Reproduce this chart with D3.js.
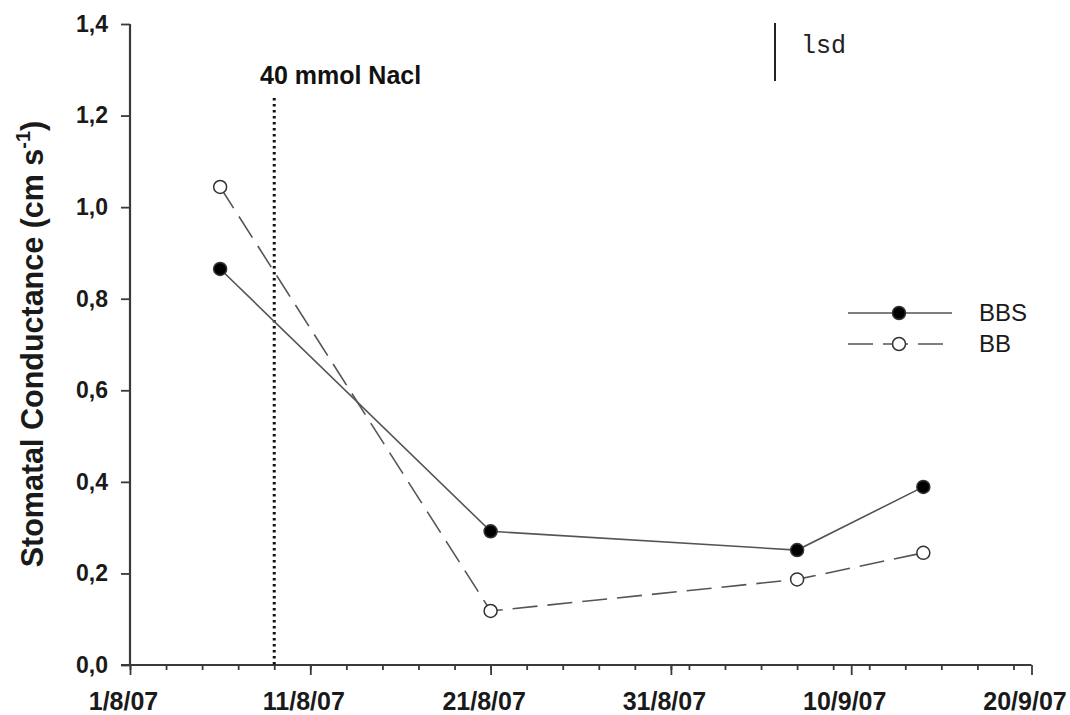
<!DOCTYPE html>
<html>
<head>
<meta charset="utf-8">
<script src="https://cdn.jsdelivr.net/npm/d3@7"></script>
<style>
  html, body { margin: 0; padding: 0; background: #fff; }
  svg { display: block; }
</style>
</head>
<body>
<svg id="chart" width="1070" height="715"></svg>
<script>
// Sampling dates and stomatal conductance (cm s-1) per treatment
const sampleDates = ["2007-08-06", "2007-08-21", "2007-09-07", "2007-09-14"];
const seriesNames = ["BBS", "BB"];
const bbsValues = [0.865, 0.292, 0.251, 0.389];
const bbValues = [1.044, 0.118, 0.187, 0.245];

// Axis ticks
const yTickValues = [0, 0.2, 0.4, 0.6, 0.8, 1.0, 1.2, 1.4];
const xMajorTicks = ["2007-08-01", "2007-08-11", "2007-08-21", "2007-08-31", "2007-09-10", "2007-09-20"];

// Salt treatment start
const saltDate = "2007-08-09";
const saltLabel = "40 mmol Nacl";
const yTitle = "Stomatal Conductance (cm s";

const parse = d3.utcParse("%Y-%m-%d");
const svg = d3.select("#chart");
const ink = "#3a3a3a";
const font = "'Liberation Sans', Arial, sans-serif";

const x = d3.scaleUtc()
  .domain([parse("2007-08-01"), parse("2007-09-20")])
  .range([130, 1031.5]);
const y = d3.scaleLinear().domain([0, 1.4]).range([665, 24]);

// Y axis
const yAxis = svg.append("g")
  .attr("transform", `translate(${x.range()[0]},0)`)
  .call(d3.axisLeft(y)
    .tickValues(yTickValues)
    .tickSize(9)
    .tickPadding(13)
    .tickFormat(d => d3.format(".1f")(d).replace(".", ",")));
yAxis.select(".domain").attr("d", `M0,${y(0)}V${y(1.4)}`);

// X axis: minor ticks every 2 days, major every 10 days
const xMinor = d3.utcDay.every(2).range(parse("2007-08-01"), d3.utcDay.offset(parse("2007-09-20"), 1));
svg.append("g")
  .attr("class", "minor")
  .attr("transform", `translate(0,${y(0)})`)
  .call(d3.axisBottom(x).tickValues(xMinor).tickSize(5).tickFormat(""))
  .select(".domain").remove();

const xAxis = svg.append("g")
  .attr("transform", `translate(0,${y(0)})`)
  .call(d3.axisBottom(x)
    .tickValues(xMajorTicks.map(parse))
    .tickSize(10)
    .tickFormat(d3.utcFormat("%-d/%-m/%y")));
xAxis.select(".domain").attr("d", `M${x.range()[0] - 9},0H${x.range()[1]}`);
xAxis.selectAll("text").attr("y", 45).attr("dy", 0).attr("dx", -7);

svg.selectAll(".domain").attr("stroke", ink).attr("stroke-width", 2.2);
svg.selectAll(".tick line").attr("stroke", ink).attr("stroke-width", 1.8);
svg.selectAll(".tick text")
  .attr("fill", "#1a1a1a")
  .attr("font-family", font)
  .attr("font-weight", "bold");
yAxis.selectAll("text").attr("font-size", 23);
xAxis.selectAll("text").attr("font-size", 25);

// Y axis title with superscript
const title = svg.append("text")
  .attr("transform", "translate(43,344) rotate(-90)")
  .attr("text-anchor", "middle")
  .attr("font-family", font)
  .attr("font-weight", "bold")
  .attr("font-size", 30.5)
  .attr("fill", "#1a1a1a");
title.append("tspan").text(yTitle);
title.append("tspan").attr("font-size", 20).attr("dy", -13).text("-1");
title.append("tspan").attr("dy", 13).text(")");

// Salt addition marker
svg.append("line")
  .attr("x1", x(parse(saltDate))).attr("x2", x(parse(saltDate)))
  .attr("y1", 98).attr("y2", y(0))
  .attr("stroke", "#111")
  .attr("stroke-width", 3)
  .attr("stroke-dasharray", "2.5,3.5");
svg.append("text")
  .attr("x", 260).attr("y", 84)
  .attr("font-family", font)
  .attr("font-weight", "bold")
  .attr("font-size", 25)
  .attr("fill", "#111")
  .text(saltLabel);

// LSD bar
svg.append("line")
  .attr("x1", 775).attr("x2", 775)
  .attr("y1", 23).attr("y2", 81)
  .attr("stroke", "#222").attr("stroke-width", 2);
svg.append("text")
  .attr("x", 801).attr("y", 53)
  .attr("font-family", "'Liberation Mono', 'Courier New', monospace")
  .attr("font-size", 25)
  .attr("fill", "#222")
  .text("lsd");

// Series
const series = [
  { name: seriesNames[0], values: bbsValues, fill: "#000", dash: null },
  { name: seriesNames[1], values: bbValues, fill: "#fff", dash: "25,10" }
];
const line = d3.line().x(d => x(d.date)).y(d => y(d.value));

series.forEach(s => {
  const pts = sampleDates.map((d, i) => ({ date: parse(d), value: s.values[i] }));
  svg.append("path")
    .datum(pts)
    .attr("d", line)
    .attr("fill", "none")
    .attr("stroke", "#555")
    .attr("stroke-width", 1.6)
    .attr("stroke-dasharray", s.dash);
  svg.selectAll(null)
    .data(pts)
    .enter().append("circle")
    .attr("cx", d => x(d.date))
    .attr("cy", d => y(d.value))
    .attr("r", 6.5)
    .attr("fill", s.fill)
    .attr("stroke", "#333")
    .attr("stroke-width", 1.5);
});

// Legend
const legend = svg.append("g");
series.forEach((s, i) => {
  const ly = 313 + i * 31;
  legend.append("line")
    .attr("x1", 848).attr("x2", 952)
    .attr("y1", ly).attr("y2", ly)
    .attr("stroke", "#555")
    .attr("stroke-width", 1.6)
    .attr("stroke-dasharray", s.dash);
  legend.append("circle")
    .attr("cx", 899).attr("cy", ly).attr("r", 6.5)
    .attr("fill", s.fill).attr("stroke", "#333").attr("stroke-width", 1.5);
  legend.append("text")
    .attr("x", 979).attr("y", ly + 8)
    .attr("font-family", font)
    .attr("font-size", 24)
    .attr("fill", "#1a1a1a")
    .text(s.name);
});
</script>
</body>
</html>
